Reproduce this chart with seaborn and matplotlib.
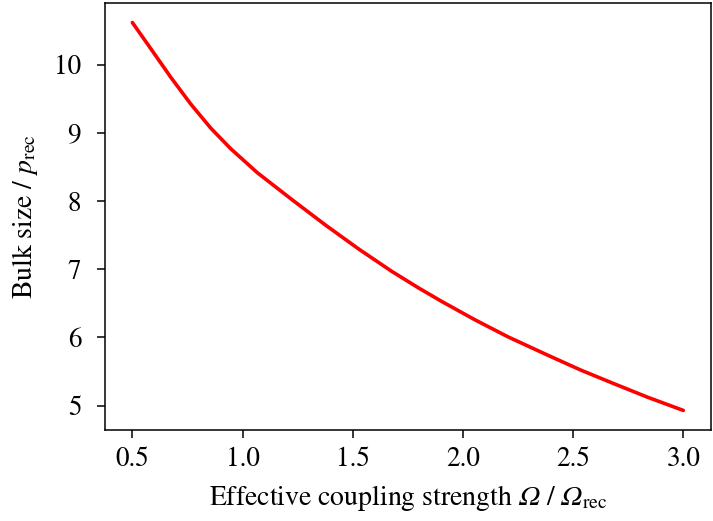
import numpy as np
import pandas as pd
import matplotlib
matplotlib.use("Agg")
import matplotlib.pyplot as plt
import seaborn as sns

coupling = [0.5, 0.585, 0.675, 0.765, 0.856, 0.946, 1.066, 1.225, 1.376, 1.526,
            1.677, 1.797, 1.903, 2.054, 2.204, 2.385, 2.536, 2.687, 2.837, 3.0]
bulk_size = [10.62, 10.23, 9.814, 9.424, 9.07, 8.77, 8.42, 8.02, 7.65, 7.30,
             6.97, 6.73, 6.53, 6.26, 6.01, 5.74, 5.52, 5.32, 5.125, 4.93]
x_ticks = [0.5, 1.0, 1.5, 2.0, 2.5, 3.0]
y_ticks = [5, 6, 7, 8, 9, 10]

sns.set_style("ticks")
plt.rcParams['font.family'] = ['STIXGeneral', 'Liberation Serif', 'DejaVu Serif']
plt.rcParams['mathtext.fontset'] = 'custom'
plt.rcParams['mathtext.rm'] = 'STIXGeneral:italic'
plt.rcParams['mathtext.it'] = 'STIXGeneral:italic'
plt.rcParams['mathtext.sf'] = 'STIXGeneral'
plt.rcParams['mathtext.fallback'] = 'stix'
plt.rcParams['font.size'] = 19.5
for k in ['text.color', 'axes.labelcolor', 'xtick.color', 'ytick.color']:
    plt.rcParams[k] = 'black'

df = pd.DataFrame({"x": coupling, "y": bulk_size})

fig = plt.figure(figsize=(7.13, 5.21), dpi=100)
ax = fig.add_axes([0.147, 0.175, 0.85, 0.819])
sns.lineplot(data=df, x="x", y="y", ax=ax, color="red", linewidth=2.6)
ax.set_xticks(x_ticks)
ax.set_yticks(y_ticks)
ax.tick_params(labelsize=19.5, direction="out", length=6, width=1.1, color="black", labelcolor="black")
ax.tick_params(axis="x", pad=6)
ax.tick_params(axis="y", pad=11)
for s in ax.spines.values():
    s.set_color("black")
    s.set_linewidth(1.1)
ax.set_xlabel(r"Effective coupling strength $Ω$ / $Ω_\mathsf{rec}$", fontsize=20, color="black", labelpad=8)
ax.set_ylabel(r"Bulk size / $p_\mathsf{rec}$", fontsize=20, color="black", labelpad=10)
fig.savefig("out.png", dpi=100)
